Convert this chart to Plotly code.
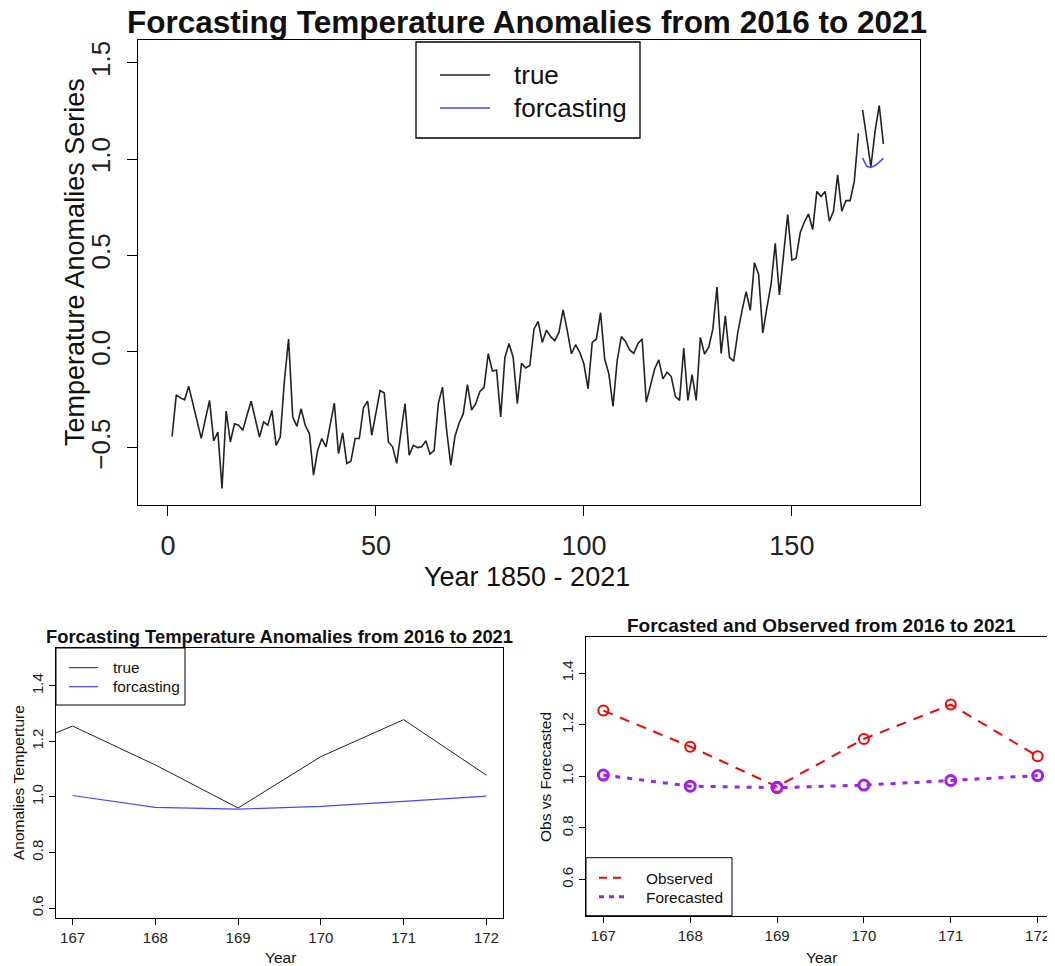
import plotly.graph_objects as go

# ---------------- data ----------------
years_idx = list(range(1, 173))
true_series = [
    -0.44, -0.224, -0.24, -0.25, -0.18, -0.27, -0.36, -0.45, -0.35, -0.253,
    -0.463, -0.417, -0.71, -0.308, -0.469, -0.374, -0.382, -0.408, -0.33, -0.257,
    -0.35, -0.443, -0.365, -0.382, -0.305, -0.486, -0.443, -0.15, 0.066, -0.339,
    -0.388, -0.296, -0.382, -0.425, -0.641, -0.512, -0.451, -0.494, -0.38, -0.267,
    -0.529, -0.422, -0.58, -0.567, -0.451, -0.451, -0.291, -0.257, -0.434, -0.322,
    -0.202, -0.215, -0.469, -0.494, -0.58, -0.42, -0.27, -0.537, -0.486, -0.498,
    -0.494, -0.463, -0.532, -0.512, -0.27, -0.184, -0.408, -0.589, -0.44, -0.37,
    -0.322, -0.171, -0.303, -0.27, -0.206, -0.185, -0.01, -0.10, -0.095, -0.339,
    -0.03, 0.042, -0.03, -0.27, -0.06, -0.085, -0.072, 0.117, 0.157, 0.048,
    0.112, 0.078, 0.057, 0.10, 0.217, 0.109, -0.012, 0.036, -0.003, -0.064,
    -0.193, 0.048, 0.066, 0.203, -0.038, -0.115, -0.284, -0.047, 0.078, 0.053,
    0.009, -0.009, 0.043, 0.066, -0.262, -0.176, -0.090, -0.043, -0.141, -0.107,
    -0.129, -0.233, -0.253, 0.019, -0.253, -0.119, -0.253, 0.074, -0.012, 0.022,
    0.117, 0.336, -0.009, 0.186, -0.029, -0.050, 0.100, 0.212, 0.312, 0.215,
    0.462, 0.401, 0.097, 0.229, 0.350, 0.562, 0.295, 0.505, 0.712, 0.475,
    0.484, 0.617, 0.673, 0.715, 0.634, 0.832, 0.806, 0.832, 0.677, 0.729,
    0.918, 0.729, 0.784, 0.784, 0.884, 1.133, 1.255, 1.115, 0.960, 1.145,
    1.278, 1.078,
]
train_n = 166
test_idx = [167, 168, 169, 170, 171, 172]
observed = [1.255, 1.115, 0.960, 1.145, 1.278, 1.078]
forecast = [1.005, 0.962, 0.956, 0.966, 0.984, 1.003]

main_xticks = [0, 50, 100, 150]
main_yticks = [-0.5, 0.0, 0.5, 1.0, 1.5]
small_yticks = [0.6, 0.8, 1.0, 1.2, 1.4]

title_main = "Forcasting Temperature Anomalies from 2016 to 2021"
title_p3 = "Forcasted and Observed from 2016 to 2021"

# ---------------- geometry helpers ----------------
# the page body has an 8px default margin, so the figure is drawn from (8, 8)
OFF = 8
W, H = 1055 - OFF, 966 - OFF
FONT = "Liberation Sans, Arial, Helvetica, sans-serif"
BLUE = "#4646ff"
PURPLE = "#A020F0"


def px(x):
    return (x - OFF) / W


def py(y):
    return 1 - (y - OFF) / H


fig = go.Figure()

# main panel
fig.add_trace(go.Scatter(x=years_idx[:train_n], y=true_series[:train_n], mode="lines",
                         line=dict(color="#222222", width=1.6), xaxis="x", yaxis="y",
                         showlegend=False))
fig.add_trace(go.Scatter(x=test_idx, y=observed, mode="lines",
                         line=dict(color="#222222", width=1.6), xaxis="x", yaxis="y",
                         showlegend=False))
fig.add_trace(go.Scatter(x=test_idx, y=forecast, mode="lines",
                         line=dict(color=BLUE, width=1.6), xaxis="x", yaxis="y",
                         showlegend=False))

# panel 2
fig.add_trace(go.Scatter(x=years_idx, y=true_series, mode="lines",
                         line=dict(color="#222222", width=1), xaxis="x2", yaxis="y2",
                         showlegend=False))
fig.add_trace(go.Scatter(x=test_idx, y=forecast, mode="lines",
                         line=dict(color=BLUE, width=1.2), xaxis="x2", yaxis="y2",
                         showlegend=False))

# panel 3
fig.add_trace(go.Scatter(x=test_idx, y=observed, mode="lines+markers",
                         line=dict(color="#ff0000", width=2, dash="10px,8px"),
                         marker=dict(symbol="circle-open", size=10,
                                     line=dict(color="#ff0000", width=2), color="#ff0000"),
                         xaxis="x3", yaxis="y3", showlegend=False, cliponaxis=False))
fig.add_trace(go.Scatter(x=test_idx, y=forecast, mode="lines+markers",
                         line=dict(color=PURPLE, width=3, dash="5px,7px"),
                         marker=dict(symbol="circle-open", size=10,
                                     line=dict(color=PURPLE, width=3), color=PURPLE),
                         xaxis="x3", yaxis="y3", showlegend=False, cliponaxis=False))

axis_common = dict(showgrid=False, zeroline=False, showline=True, mirror=True,
                   linecolor="black", ticks="outside", tickcolor="black",
                   tickfont=dict(family=FONT, color="#222222"))

fig.update_layout(
    width=W, height=H,
    margin=dict(l=0, r=0, t=0, b=0),
    paper_bgcolor="white", plot_bgcolor="white",
    showlegend=False,
    xaxis=dict(axis_common, domain=[px(138), px(920)], range=[-7.2, 180.8],
               anchor="y", tickvals=main_xticks, ticklen=10, linewidth=1.3,
               tickfont=dict(family=FONT, size=27, color="#222222"), ticklabelstandoff=6),
    yaxis=dict(axis_common, domain=[py(505), py(40)], range=[-0.796, 1.618],
               anchor="x", tickvals=main_yticks, ticklen=10, linewidth=1.3,
               tickangle=-90, tickformat=".1f",
               tickfont=dict(family=FONT, size=26, color="#222222"), ticklabelstandoff=6),
    xaxis2=dict(axis_common, domain=[px(56), px(503)], range=[166.8, 172.2],
                anchor="y2", tickvals=test_idx, ticklen=6,
                tickfont=dict(family=FONT, size=15, color="#222222")),
    yaxis2=dict(axis_common, domain=[py(918), py(648)], range=[0.564, 1.536],
                anchor="x2", tickvals=small_yticks, ticklen=6, tickangle=-90,
                tickformat=".1f",
                tickfont=dict(family=FONT, size=15, color="#222222")),
    xaxis3=dict(axis_common, domain=[px(586), 1.0], range=[166.8, 172.2],
                anchor="y3", tickvals=test_idx, ticklen=6,
                tickfont=dict(family=FONT, size=15, color="#222222")),
    yaxis3=dict(axis_common, domain=[py(915.7), py(637)], range=[0.46, 1.54],
                anchor="x3", tickvals=small_yticks, ticklen=6, tickangle=-90,
                tickformat=".1f",
                tickfont=dict(family=FONT, size=15, color="#222222")),
)

annotations = []


def text(x, y, s, size, bold=False, angle=0, xanchor="center", color="#111111"):
    annotations.append(dict(
        x=px(x), y=py(y), xref="paper", yref="paper", text=(f"<b>{s}</b>" if bold else s),
        showarrow=False, textangle=angle, xanchor=xanchor, yanchor="middle",
        font=dict(family=FONT, size=size, color=color)))


# main texts
text(527, 22, title_main, 31.5, bold=True)
text(527, 577, "Year 1850 - 2021", 27)
text(75, 262, "Temperature Anomalies Series", 27, angle=-90)
text(512, 75, "true", 26, xanchor="left")
text(512, 108, "forcasting", 26, xanchor="left")

# panel 2 texts
text(279, 636, title_main, 18.4, bold=True)
text(280, 957, "Year", 15.5)
text(18, 783, "Anomalies Temperture", 15.5, angle=-90)
text(111, 667, "true", 15.4, xanchor="left")
text(111, 686, "forcasting", 15.4, xanchor="left")

# panel 3 texts
text(821, 625, title_p3, 19, bold=True)
text(821, 957, "Year", 15.5)
text(545, 777, "Obs vs Forecasted", 15.5, angle=-90)
text(644, 878, "Observed", 15.4, xanchor="left")
text(644, 897, "Forecasted", 15.4, xanchor="left")

shapes = []


def rect(x0, y0, x1, y1, w=1.2):
    shapes.append(dict(type="rect", xref="paper", yref="paper",
                       x0=px(x0), y0=py(y1), x1=px(x1), y1=py(y0),
                       line=dict(color="black", width=w), fillcolor="white", layer="above"))


def seg(x0, x1, y, color, w, dash="solid"):
    shapes.append(dict(type="line", xref="paper", yref="paper",
                       x0=px(x0), y0=py(y), x1=px(x1), y1=py(y),
                       line=dict(color=color, width=w, dash=dash), layer="above"))


# legends
rect(416, 42, 640, 138, 1.3)
seg(440, 490, 75, "#222222", 1.6)
seg(440, 490, 108, BLUE, 1.6)

rect(56, 648, 185, 705, 1)
seg(69, 98, 667.7, "#222222", 1)
seg(69, 98, 686.7, BLUE, 1.2)

rect(586, 857.7, 732, 915.7, 1)
seg(599, 627, 877.7, "#ff0000", 2, "8px,6px")
seg(599, 627, 896.7, PURPLE, 3, "5px,5px")

fig.update_layout(annotations=annotations, shapes=shapes)

fig.write_html("out.html")
